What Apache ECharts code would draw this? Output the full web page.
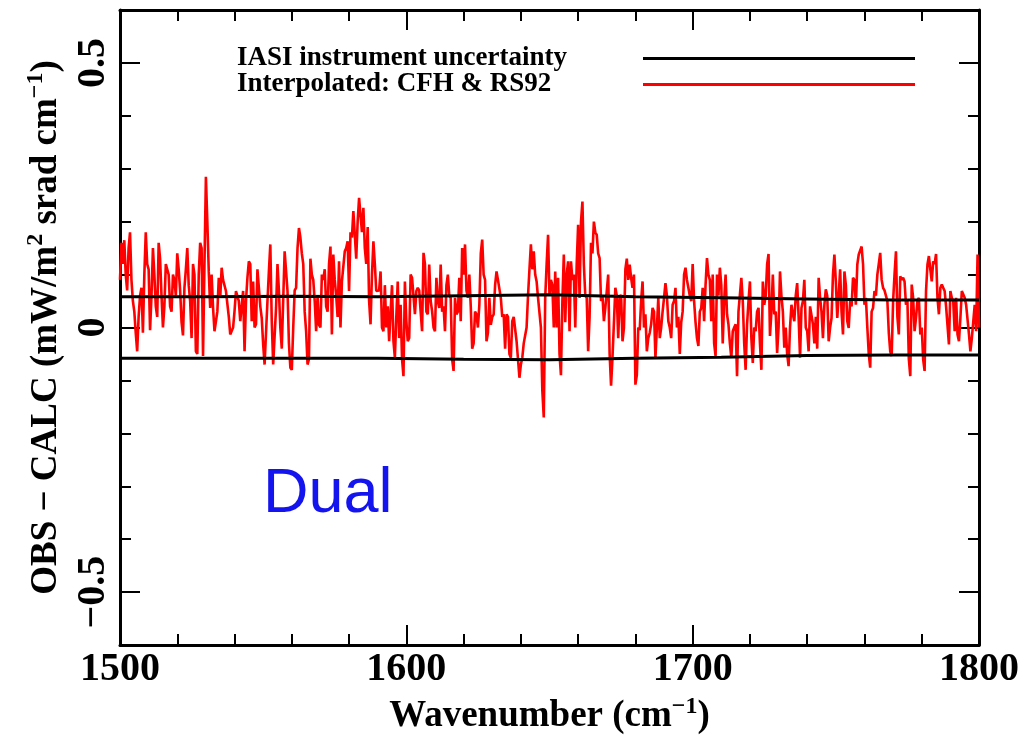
<!DOCTYPE html>
<html>
<head>
<meta charset="utf-8">
<script src="https://cdn.jsdelivr.net/npm/echarts@6/dist/echarts.min.js"></script>
<style>
html,body{margin:0;padding:0;background:#ffffff;}
#chart{width:1027px;height:755px;}
</style>
</head>
<body>
<div id="chart"></div>
<script>
// Wavenumber grid of the red spectrum (cm^-1): start and spacing
const waveStart = 1500;
const waveStep = 0.5;

// OBS - CALC, interpolated CFH & RS92 (mW/m^2 srad cm^-1), 1500..1800 every 0.5
const obsMinusCalc = [
  // 1500 - 1528
  0.09, 0.16, 0.12, 0.165, 0.10, 0.07, 0.15, 0.18, 0.09, 0.05,
  0.03, -0.01, -0.045, 0.02, 0.06, 0.075, -0.01, 0.10, 0.18, 0.12,
  0.11, -0.005, 0.06, 0.15, 0.10, 0.04, 0.02, 0.16, 0.13, 0.06,
  0.00, 0.04, 0.12, 0.11, 0.10, 0.04, 0.03, 0.10, 0.09, 0.06,
  0.14, 0.11, 0.07, 0.01, -0.015, 0.075, 0.11, 0.15, 0.08, 0.05,
  -0.02, 0.12, 0.10, -0.045, -0.05, 0.10, 0.16,
  // 1528.5 - 1560
  0.15, -0.054, 0.12, 0.285, 0.20, 0.106, 0.037, 0.10, 0.037, -0.007,
  -0.01, 0.03, 0.094, 0.056, 0.113, 0.09, 0.087, 0.069, 0.07, 0.02,
  -0.013, -0.01, 0.00, 0.031, 0.069, 0.07, 0.05, 0.012, 0.04, 0.069,
  -0.045, 0.05, 0.094, 0.125, 0.12, 0.012, 0.087, 0.00, 0.006, 0.11,
  0.113, 0.04, 0.018, -0.032, -0.07, -0.07, 0.05, 0.106, 0.157, 0.012,
  -0.07, -0.07, 0.037, 0.12, 0.07, -0.001, -0.04, -0.04, 0.144, 0.144,
  0.069, -0.03, -0.076, -0.08,
  // 1560.5 - 1590
  0.00, 0.07, 0.075, 0.15, 0.188, 0.17, 0.14, 0.12, 0.03, -0.007,
  -0.07, -0.06, 0.13, 0.10, 0.09, 0.05, -0.007, 0.06, 0.005, 0.00,
  0.10, 0.09, 0.11, 0.04, 0.03, 0.12, 0.153, -0.013, 0.138, 0.09,
  0.06, 0.02, 0.125, 0.00, 0.087, 0.09, 0.144, 0.15, 0.163, 0.069,
  0.18, 0.17, 0.22, 0.22, 0.13, 0.20, 0.245, 0.245, 0.18, 0.226,
  0.15, 0.12, 0.19, 0.05, 0.006, 0.10, 0.163, 0.12, 0.069, 0.07,
  // 1590.5 - 1620
  0.07, 0.106, 0.00, -0.007, 0.08, 0.00, 0.04, -0.026, 0.03, 0.08,
  -0.026, -0.057, 0.02, 0.087, -0.02, 0.043, -0.06, -0.092, 0.087, 0.012,
  -0.026, -0.02, 0.10, 0.094, 0.06, 0.025, 0.069, 0.075, 0.07, 0.03,
  -0.007, 0.141, 0.12, 0.03, 0.025, 0.119, 0.05, 0.031, 0.00, -0.007,
  0.094, 0.05, 0.037, 0.119, 0.03, 0.04, -0.007, 0.08, 0.10, 0.06,
  0.056, -0.06, -0.082, 0.056, 0.025, 0.03, 0.094, 0.012, 0.15, 0.10,
  // 1620.5 - 1650
  0.157, 0.07, 0.056, 0.10, 0.04, -0.04, -0.03, 0.03, 0.025, 0.00,
  0.043, 0.14, 0.166, 0.10, 0.09, -0.026, -0.01, 0.056, 0.005, 0.02,
  0.025, 0.08, 0.106, 0.09, 0.087, 0.056, 0.02, 0.025, -0.04, 0.025,
  0.02, -0.05, -0.057, 0.012, 0.02, 0.018, -0.026, -0.06, -0.095, -0.07,
  -0.057, -0.03, -0.032, 0.00, 0.06, 0.11, 0.157, 0.11, 0.144, 0.10,
  0.087, 0.056, 0.056, 0.00, -0.12, -0.17, 0.056, 0.12, 0.175, 0.06,
  // 1650.5 - 1680
  0.09, 0.08, 0.00, 0.106, 0.00, 0.094, -0.05, -0.09, 0.05, 0.138,
  0.01, 0.10, 0.125, -0.007, 0.125, 0.09, 0.10, 0.00, 0.12, 0.194,
  0.056, 0.20, 0.238, 0.119, 0.06, 0.056, -0.045, 0.02, 0.16, 0.14,
  0.20, 0.18, 0.175, 0.14, 0.131, 0.05, 0.06, 0.012, 0.037, 0.04,
  0.10, -0.05, -0.11, -0.057, -0.06, 0.075, 0.06, -0.02, 0.056, 0.062,
  -0.026, 0.00, 0.11, 0.13, 0.09, 0.119, 0.094, 0.075, 0.10, -0.108,
  // 1680.5 - 1710
  -0.09, 0.00, -0.005, 0.05, 0.087, 0.00, 0.025, -0.045, -0.02, -0.01,
  0.006, 0.037, 0.03, -0.057, 0.00, 0.056, -0.02, 0.00, 0.03, 0.056,
  0.084, 0.06, 0.012, 0.00, -0.02, 0.043, 0.05, 0.075, 0.00, 0.02,
  -0.05, 0.01, 0.03, 0.10, 0.113, 0.09, 0.075, 0.06, 0.05, 0.12,
  0.05, 0.01, -0.02, -0.035, 0.03, 0.037, 0.075, 0.012, 0.08, 0.131,
  0.10, 0.09, 0.012, 0.10, -0.03, -0.054, 0.10, 0.06, 0.113, 0.08,
  // 1710.5 - 1740.5
  -0.03, 0.05, 0.10, 0.025, 0.006, -0.03, -0.057, -0.007, 0.00, 0.006,
  -0.092, 0.03, 0.03, 0.094, 0.05, -0.03, -0.08, 0.006, 0.05, 0.087,
  -0.02, -0.067, 0.00, -0.007, 0.03, 0.037, -0.03, -0.08, 0.087, 0.043,
  0.06, 0.119, 0.139, -0.016, 0.03, 0.10, 0.025, 0.03, -0.048, 0.00,
  0.106, 0.06, 0.03, -0.038, 0.00, -0.05, -0.073, 0.00, 0.043, 0.025,
  0.012, 0.06, 0.084, 0.02, -0.057, 0.037, 0.05, 0.09, 0.00, -0.007,
  -0.045,
  // 1741 - 1770.5
  0.04, 0.04, 0.006, -0.03, 0.02, -0.04, 0.094, 0.056, 0.03, -0.02,
  0.043, 0.072, 0.06, -0.026, 0.00, 0.018, 0.10, 0.138, 0.087, 0.018,
  0.06, 0.11, 0.03, -0.013, 0.106, 0.08, 0.012, -0.001, 0.05, 0.04,
  0.094, 0.09, 0.043, 0.119, 0.138, 0.14, 0.153, 0.12, 0.043, 0.056,
  0.00, -0.05, -0.076, 0.03, 0.037, 0.069, 0.06, 0.10, 0.12, 0.141,
  0.09, 0.075, 0.07, 0.069, 0.05, -0.01, -0.045, -0.054, 0.05, 0.10,
  // 1771 - 1800
  0.144, 0.02, -0.013, 0.097, 0.09, 0.094, 0.087, 0.043, 0.05, -0.06,
  -0.092, 0.081, 0.056, -0.007, 0.018, 0.05, 0.056, -0.013, 0.00, -0.06,
  -0.082, 0.069, 0.119, 0.135, 0.11, 0.087, 0.125, 0.12, 0.139, 0.056,
  0.025, 0.075, 0.081, 0.081, 0.069, 0.04, 0.037, -0.032, 0.069, 0.056,
  0.05, -0.007, 0.056, -0.013, -0.026, 0.018, 0.069, 0.069, 0.056, 0.043,
  0.04, -0.013, -0.045, -0.02, -0.02, 0.043, -0.007, 0.138, 0.00
];

// IASI instrument uncertainty (+/-) envelope
const uncWave  = [1500, 1530, 1560, 1590, 1620, 1650, 1680, 1710, 1740, 1770, 1800];
const uncUpper = [0.058, 0.058, 0.059, 0.058, 0.060, 0.062, 0.058, 0.056, 0.054, 0.052, 0.052];
const uncLower = [-0.058, -0.058, -0.058, -0.058, -0.060, -0.061, -0.058, -0.056, -0.053, -0.052, -0.052];

// Axis ticks
const yMajorTicks = [-0.5, 0, 0.5];
const seriesNames = ['IASI instrument uncertainty', 'Interpolated: CFH & RS92'];
const annotationText = 'Dual';

const FONT = 'Liberation Serif';
const redData = obsMinusCalc.map((v, i) => [waveStart + i * waveStep, v]);
const upperData = uncWave.map((w, i) => [w, uncUpper[i]]);
const lowerData = uncWave.map((w, i) => [w, uncLower[i]]);

const axisLineStyle = { show: true, onZero: false, lineStyle: { color: '#000', width: 3 } };
const tickStyle = { color: '#000', width: 2 };

function fmtY(v) {
  if (Math.abs(v) < 1e-9) return '0';
  return v < 0 ? '\u2212' + String(Math.abs(v)) : String(v);
}

const xCommon = {
  type: 'value', min: 1500, max: 1800, interval: 100,
  axisLine: axisLineStyle,
  axisTick: { show: true, inside: true, length: 20, lineStyle: tickStyle },
  minorTick: { show: true, splitNumber: 5, length: 11, lineStyle: tickStyle },
  splitLine: { show: false }, minorSplitLine: { show: false }
};

const yMinor = {
  type: 'value', min: -0.6, max: 0.6, interval: 0.1,
  axisTick: { show: true, inside: true, length: 11, lineStyle: tickStyle },
  splitLine: { show: false }
};
const yMajor = {
  type: 'value', min: -0.6, max: 0.6,
  axisLine: { show: false, onZero: false },
  axisTick: { show: true, inside: true, length: 20, customValues: yMajorTicks, lineStyle: tickStyle },
  axisLabel: { show: false },
  splitLine: { show: false }
};

const option = {
  animation: false,
  backgroundColor: '#ffffff',
  grid: { left: 120, right: 48, top: 10, bottom: 110, containLabel: false },
  legend: {
    data: seriesNames,
    orient: 'vertical',
    align: 'right',
    left: 232, top: 40,
    icon: 'rect',
    itemWidth: 272, itemHeight: 3, itemGap: -1,
    formatter: name => '{a|' + name + '}',
    textStyle: {
      fontFamily: FONT, fontWeight: 'bold', fontSize: 27, color: '#000', lineHeight: 22,
      rich: { a: { fontFamily: FONT, fontWeight: 'bold', fontSize: 27, color: '#000', lineHeight: 22, width: 401, align: 'left' } }
    }
  },
  xAxis: [
    Object.assign({}, xCommon, {
      position: 'bottom',
      axisLabel: { show: true, formatter: v => String(v), fontFamily: FONT, fontWeight: 'bold', fontSize: 40, color: '#000', margin: 5 },
      name: '{t|Wavenumber (cm}{s|\u22121}{t|)}',
      nameLocation: 'middle', nameGap: 41,
      nameTextStyle: {
        rich: {
          t: { fontFamily: FONT, fontWeight: 'bold', fontSize: 37, color: '#000', lineHeight: 44 },
          s: { fontFamily: FONT, fontWeight: 'bold', fontSize: 24, color: '#000', lineHeight: 44, verticalAlign: 'top' }
        }
      }
    }),
    Object.assign({}, xCommon, { position: 'top', axisLabel: { show: false } })
  ],
  yAxis: [
    Object.assign({}, yMinor, {
      position: 'left',
      axisLine: axisLineStyle,
      axisLabel: { show: true, customValues: yMajorTicks, rotate: 90, formatter: fmtY,
        fontFamily: FONT, fontWeight: 'bold', fontSize: 40, color: '#000', margin: 6 },
      name: '{t|OBS \u2212 CALC (mW/m}{s|2}{t| srad cm}{s|\u22121}{t|)}',
      nameLocation: 'middle', nameRotate: 90, nameGap: 52,
      nameTextStyle: {
        rich: {
          t: { fontFamily: FONT, fontWeight: 'bold', fontSize: 37, color: '#000', lineHeight: 44 },
          s: { fontFamily: FONT, fontWeight: 'bold', fontSize: 24, color: '#000', lineHeight: 44, verticalAlign: 'top' }
        }
      }
    }),
    Object.assign({}, yMajor, { position: 'left' }),
    Object.assign({}, yMinor, { position: 'right', axisLine: axisLineStyle, axisLabel: { show: false } }),
    Object.assign({}, yMajor, { position: 'right' })
  ],
  series: [
    {
      name: seriesNames[1], type: 'line', xAxisIndex: 0, yAxisIndex: 0,
      data: redData, showSymbol: false, symbol: 'none', color: '#ff0000',
      lineStyle: { color: '#ff0000', width: 2.6 }, z: 2
    },
    {
      name: seriesNames[0], type: 'line', xAxisIndex: 0, yAxisIndex: 0,
      data: upperData, showSymbol: false, symbol: 'none', color: '#000000',
      lineStyle: { color: '#000000', width: 3 }, z: 3
    },
    {
      name: seriesNames[0], type: 'line', xAxisIndex: 0, yAxisIndex: 0,
      data: lowerData, showSymbol: false, symbol: 'none', color: '#000000',
      lineStyle: { color: '#000000', width: 3 }, z: 3
    }
  ],
  graphic: [
    {
      type: 'text', left: 263, top: 463, z: 10,
      style: { text: annotationText, fontFamily: 'Liberation Sans', fontSize: 63, fill: '#1414ee' }
    }
  ]
};

const chart = echarts.init(document.getElementById('chart'), null, { renderer: 'canvas' });
chart.setOption(option);
</script>
</body>
</html>
